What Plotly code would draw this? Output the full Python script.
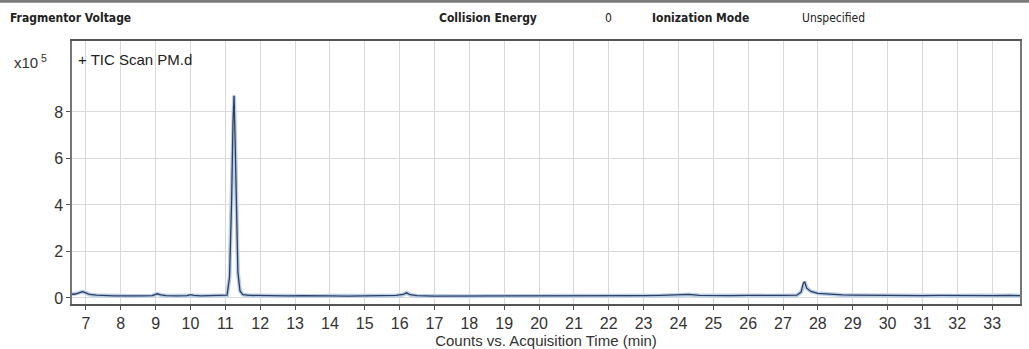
import plotly.graph_objects as go

# Acquisition time (min) and counts (x10^5)
time_min = [6.6, 6.7, 6.8, 6.9, 7.0, 7.1, 7.3, 7.5, 7.8, 8.0, 8.3, 8.6, 8.9, 9.0, 9.05, 9.15, 9.3,
             9.6, 9.9, 10.0, 10.1, 10.3, 10.6, 10.9, 11.05, 11.12, 11.18, 11.22, 11.25, 11.28,
             11.32, 11.36, 11.42, 11.5, 11.7, 12.0, 12.4, 12.8, 13.2, 13.6, 14.0, 14.5, 15.0,
             15.5, 15.9, 16.1, 16.2, 16.3, 16.5, 17.0, 17.5, 18.0, 18.5, 19.0, 19.5, 20.0, 20.5,
             21.0, 21.5, 22.0, 22.5, 23.0, 23.5, 24.0, 24.3, 24.6, 25.0, 25.5, 26.0, 26.5, 27.0,
             27.4, 27.52, 27.58, 27.62, 27.68, 27.8, 28.0, 28.3, 28.7, 29.0, 29.5, 30.0, 30.5,
             31.0, 31.5, 32.0, 32.5, 33.0, 33.5, 33.8]
counts_e5 = [0.16, 0.17, 0.22, 0.27, 0.22, 0.15, 0.12, 0.10, 0.09, 0.09, 0.08, 0.09, 0.10, 0.15, 0.18, 0.13, 0.10,
             0.09, 0.10, 0.14, 0.11, 0.09, 0.09, 0.09, 0.12, 0.9, 4.2, 7.6, 8.7, 6.8,
             3.2, 1.1, 0.30, 0.14, 0.11, 0.10, 0.10, 0.09, 0.10, 0.08, 0.09, 0.08, 0.09,
             0.09, 0.11, 0.15, 0.22, 0.14, 0.10, 0.08, 0.08, 0.07, 0.08, 0.08, 0.09, 0.09, 0.08,
             0.08, 0.09, 0.08, 0.09, 0.10, 0.11, 0.13, 0.15, 0.11, 0.10, 0.10, 0.11, 0.10, 0.11,
             0.12, 0.25, 0.62, 0.70, 0.42, 0.28, 0.20, 0.16, 0.13, 0.12, 0.11, 0.10, 0.11,
             0.10, 0.11, 0.10, 0.11, 0.10, 0.11, 0.10]
x_ticks = list(range(7, 34))
y_ticks = [0, 2, 4, 6, 8]

fig = go.Figure()
fig.add_trace(go.Scatter(x=time_min, y=counts_e5, mode="lines",
                         line=dict(color="#b9cfe6", width=4), hoverinfo="skip"))
fig.add_trace(go.Scatter(x=time_min, y=counts_e5, mode="lines",
                         line=dict(color="#2f3d63", width=1.3)))

grey = "#d9d9d9"
fig.update_layout(
    width=1029, height=349,
    margin=dict(l=72, r=9, t=41, b=45),
    paper_bgcolor="white", plot_bgcolor="white",
    showlegend=False,
    font=dict(family="Liberation Sans, Arial, sans-serif", color="#333333"),
    xaxis=dict(range=[6.6, 33.8], tickvals=x_ticks, ticktext=[str(v) for v in x_ticks],
               showgrid=True, gridcolor=grey, gridwidth=1,
               ticks="outside", ticklen=4, tickcolor="#555555",
               showline=True, linecolor="#555555", linewidth=2, mirror=True,
               tickfont=dict(size=16, color="#333333"), zeroline=False, automargin=False,
               title=dict(text="Counts vs. Acquisition Time (min)", standoff=0,
                          font=dict(size=15, color="#333333"))),
    yaxis=dict(range=[-0.26, 11.05], tickvals=y_ticks, ticktext=[str(v) for v in y_ticks],
               showgrid=True, gridcolor=grey, gridwidth=1,
               ticks="outside", ticklen=4, tickcolor="#555555",
               showline=True, linecolor="#777777", linewidth=1.5, mirror=True,
               tickfont=dict(size=16, color="#333333"), zeroline=False, automargin=False),
)

# top dark border bar
fig.add_shape(type="rect", xref="paper", yref="paper", x0=-0.08, x1=1.01,
              y0=1.145, y1=1.16, fillcolor="#7a7a7a", line=dict(width=0), layer="above")

hdr = dict(family="DejaVu Sans Condensed, DejaVu Sans, Arial", size=12, color="#222222")
annos = [
    (8, "<b>Fragmentor Voltage</b>"),
    (437, "<b>Collision Energy</b>"),
    (603, "0"),
    (650, "<b>Ionization Mode</b>"),
    (800, "Unspecified"),
]
for px, t in annos:
    fig.add_annotation(x=(px - 72) / 948, y=(349 - 45 - 18) / 263, xref="paper", yref="paper",
                       text=t, showarrow=False, xanchor="left", yanchor="middle", font=hdr)

fig.add_annotation(x=(12 - 72) / 948, y=(349 - 45 - 61) / 263, xref="paper", yref="paper",
                   text="x10<sup> 5</sup>", showarrow=False, xanchor="left", yanchor="middle",
                   font=dict(size=15, color="#333333"))
fig.add_annotation(x=(76 - 72) / 948, y=(349 - 45 - 59) / 263, xref="paper", yref="paper",
                   text="+ TIC Scan PM.d", showarrow=False, xanchor="left", yanchor="middle",
                   font=dict(size=15, color="#222222"))

fig.write_html("out.html")
